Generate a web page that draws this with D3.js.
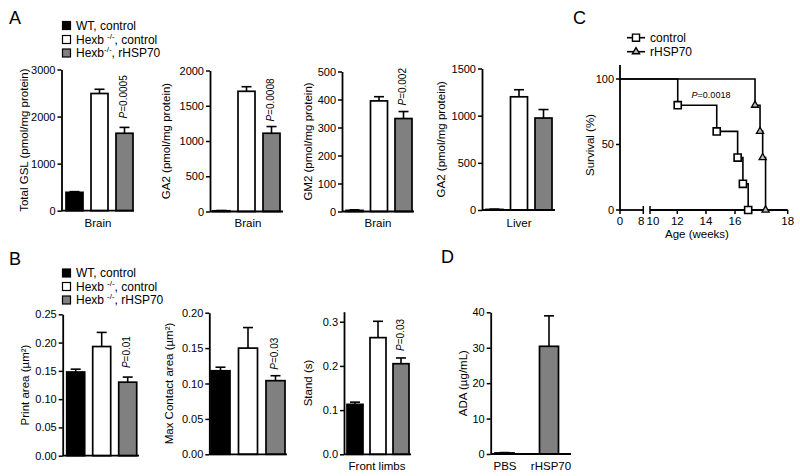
<!DOCTYPE html>
<html><head><meta charset="utf-8">
<script src="https://cdn.jsdelivr.net/npm/d3@7"></script>
<style>
body{margin:0;background:#fff;}
text{font-family:"Liberation Sans",Arial,sans-serif;fill:#000;}
</style></head>
<body>
<script>
// ---------- DATA ----------
const groups = ["WT, control", "Hexb -/-, control", "Hexb -/-, rHSP70"];
const gslBrain = [390, 2490, 1645];
const gslBrainErr = [15, 90, 125];
const ga2Brain = [10, 1705, 1110];
const ga2BrainErr = [4, 65, 95];
const gm2Brain = [4, 395, 332];
const gm2BrainErr = [2, 15, 25];
const ga2Liver = [6, 1200, 975];
const ga2LiverErr = [3, 75, 90];
const printArea = [0.148, 0.193, 0.130];
const printAreaErr = [0.005, 0.025, 0.009];
const maxContact = [0.118, 0.150, 0.104];
const maxContactErr = [0.005, 0.029, 0.007];
const stand = [0.113, 0.264, 0.205];
const standErr = [0.005, 0.037, 0.013];
const adaGroups = ["PBS", "rHSP70"];
const ada = [0.3, 30.4];
const adaErr = [0.1, 8.6];
const controlWeeks = [12.03, 14.74, 16.1, 16.3, 16.5];
const controlSurv = [80, 60, 40, 20, 0];
const rhspWeeks = [16.76, 16.95, 17.05, 17.16];
const rhspSurv = [80, 60, 40, 0];
const survTicks = [0, 8, 10, 12, 14, 16, 18];
const survYTicks = [0, 50, 100];

const groupColors = ["#000000", "#ffffff", "#808080"];
const FONT = '"Liberation Sans",Arial,sans-serif';

const svg = d3.select("body").append("svg").attr("width", 800).attr("height", 476);

function addLetter(t, x, y){
  svg.append("text").attr("x", x).attr("y", y).attr("font-size", 18).text(t);
}

function barPanel(c){
  const g = svg.append("g");
  const y = d3.scaleLinear().domain(c.domain).range([c.y0, c.yTop]);
  const n = c.cats.length;
  const x = d3.scaleBand().domain(c.cats)
    .range([c.start, c.start + n*c.step - (c.step - c.bw)])
    .paddingInner(1 - c.bw/c.step).paddingOuter(0);
  // y axis
  const ax = d3.axisLeft(y).tickValues(c.ticks).tickFormat(d3.format(c.fmt))
    .tickSize(4).tickSizeOuter(0).tickPadding(2);
  const ag = g.append("g").attr("transform", `translate(${c.axisX},0)`).call(ax);
  ag.selectAll("path").attr("stroke", "#000").attr("stroke-width", 1.8);
  ag.selectAll("line").attr("stroke", "#000").attr("stroke-width", 1.5);
  ag.selectAll("text").attr("font-size", 11).attr("font-family", FONT).attr("fill", "#000");
  // error bars
  c.vals.forEach((v, i) => {
    const cx = x(c.cats[i]) + x.bandwidth()/2;
    const top = y(v + c.errs[i]);
    g.append("line").attr("x1", cx).attr("x2", cx).attr("y1", y(v)).attr("y2", top)
      .attr("stroke", "#000").attr("stroke-width", 1.6);
    g.append("line").attr("x1", cx - 5).attr("x2", cx + 5).attr("y1", top).attr("y2", top)
      .attr("stroke", "#000").attr("stroke-width", 1.6);
  });
  // bars
  g.selectAll("rect.bar").data(c.vals).join("rect")
    .attr("x", (d, i) => x(c.cats[i]))
    .attr("y", d => y(d))
    .attr("width", x.bandwidth())
    .attr("height", d => Math.max(0.5, c.y0 - y(d)))
    .attr("fill", (d, i) => c.colors[i])
    .attr("stroke", "#000").attr("stroke-width", 1.7);
  // x axis line
  g.append("line").attr("x1", c.axisX).attr("x2", c.axisEnd).attr("y1", c.y0).attr("y2", c.y0)
    .attr("stroke", "#000").attr("stroke-width", 1.8);
  // y label
  g.append("text").attr("transform", `translate(${c.ylabX},${(c.y0 + c.yTop)/2 + (c.ylabDy||0)}) rotate(-90)`)
    .attr("text-anchor", "middle").attr("dy", "0.35em").attr("font-size", 11.5).text(c.ylab);
  // x labels
  if (c.xlabels) {
    c.xlabels.forEach(l => {
      g.append("text").attr("x", l.x).attr("y", c.xlabY).attr("text-anchor", "middle")
        .attr("font-size", 11.5).text(l.t);
    });
  }
  // P value
  if (c.p) {
    const i = n - 1;
    const cx = x(c.cats[i]) + x.bandwidth()/2 - 1;
    const yb = y(c.vals[i] + c.errs[i]) - c.pGap;
    const t = g.append("text").attr("transform", `translate(${cx + 3.6},${yb}) rotate(-90)`)
      .attr("font-size", 10);
    t.append("tspan").attr("font-style", "italic").text("P");
    t.append("tspan").text(c.p);
  }
  return {x, y};
}

function legend(x0, yc, rows){
  rows.forEach((r, i) => {
    const yy = yc[i];
    svg.append("rect").attr("x", x0).attr("y", yy - 4).attr("width", 8).attr("height", 8)
      .attr("fill", groupColors[i]).attr("stroke", "#000").attr("stroke-width", 1.2);
    const t = svg.append("text").attr("x", x0 + 13.5).attr("y", yy + 4.2).attr("font-size", 12);
    if (r.sup) {
      t.append("tspan").text(r.pre);
      t.append("tspan").attr("font-size", 8).attr("dy", -5).attr("dx", r.gap).text(r.sup);
      t.append("tspan").attr("dy", 5).text(r.post);
    } else t.text(r.pre);
  });
}

// ---------- PANEL A ----------
addLetter("A", 9, 23.5);
legend(62.5, [25.5, 39.5, 53], [
  {pre: "WT, control"},
  {pre: "Hexb", sup: "-/-", post: ", control", gap: 3},
  {pre: "Hexb", sup: "-/-", post: ", rHSP70", gap: 0}
]);

barPanel({cats: groups, vals: gslBrain, errs: gslBrainErr, colors: groupColors,
  domain: [0, 3000], ticks: [0, 1000, 2000, 3000], fmt: "d",
  y0: 210.7, yTop: 69.5, axisX: 61.5, axisEnd: 134, start: 66, step: 25, bw: 17,
  ylab: "Total GSL (pmol/mg protein)", ylabX: 24,
  xlabels: [{t: "Brain", x: 98}], xlabY: 226.5, p: "=0.0005", pGap: 9});

barPanel({cats: groups, vals: ga2Brain, errs: ga2BrainErr, colors: groupColors,
  domain: [0, 2000], ticks: [0, 500, 1000, 1500, 2000], fmt: "d",
  y0: 211.5, yTop: 70.5, axisX: 210, axisEnd: 283, start: 213, step: 25, bw: 17,
  ylab: "GA2 (pmol/mg protein)", ylabX: 166,
  xlabels: [{t: "Brain", x: 248}], xlabY: 226.5, p: "=0.0008", pGap: 5});

barPanel({cats: groups, vals: gm2Brain, errs: gm2BrainErr, colors: groupColors,
  domain: [0, 500], ticks: [0, 100, 200, 300, 400, 500], fmt: "d",
  y0: 211.5, yTop: 71.5, axisX: 342, axisEnd: 414, start: 346, step: 24.5, bw: 17,
  ylab: "GM2 (pmol/mg protein)", ylabX: 308,
  xlabels: [{t: "Brain", x: 378}], xlabY: 226.5, p: "=0.002", pGap: 6});

barPanel({cats: groups, vals: ga2Liver, errs: ga2LiverErr, colors: groupColors,
  domain: [0, 1500], ticks: [0, 500, 1000, 1500], fmt: "d",
  y0: 210, yTop: 68.5, axisX: 482, axisEnd: 555, start: 486, step: 24.5, bw: 17,
  ylab: "GA2 (pmol/mg protein)", ylabX: 441,
  xlabels: [{t: "Liver", x: 519}], xlabY: 226.5});

// ---------- PANEL B ----------
addLetter("B", 9, 265);
legend(62.5, [273, 286.5, 300], [
  {pre: "WT, control"},
  {pre: "Hexb", sup: "-/-", post: ", control", gap: 3},
  {pre: "Hexb", sup: "-/-", post: ", rHSP70", gap: 3}
]);

barPanel({cats: groups, vals: printArea, errs: printAreaErr, colors: groupColors,
  domain: [0, 0.25], ticks: [0, 0.05, 0.10, 0.15, 0.20, 0.25], fmt: ".2f",
  y0: 455.7, yTop: 314.3, axisX: 62.7, axisEnd: 139, start: 66.7, step: 26, bw: 18,
  ylab: "Print area (µm²)", ylabX: 25, p: "=0.01", pGap: 9});

barPanel({cats: groups, vals: maxContact, errs: maxContactErr, colors: groupColors,
  domain: [0, 0.20], ticks: [0, 0.05, 0.10, 0.15, 0.20], fmt: ".2f",
  y0: 454.3, yTop: 312.7, axisX: 209.3, axisEnd: 287, start: 211, step: 27.5, bw: 19,
  ylab: "Max Contact area (µm²)", ylabX: 169, p: "=0.03", pGap: 6});

barPanel({cats: groups, vals: stand, errs: standErr, colors: groupColors,
  domain: [0, 0.3227], ticks: [0, 0.1, 0.2, 0.3], fmt: ".1f",
  y0: 454.3, yTop: 311.7, axisX: 344, axisEnd: 411, start: 347, step: 23, bw: 16,
  ylab: "Stand (s)", ylabX: 308,
  xlabels: [{t: "Front limbs", x: 377}], xlabY: 469.5, p: "=0.03", pGap: 7});

// ---------- PANEL D ----------
addLetter("D", 441, 263);
barPanel({cats: adaGroups, vals: ada, errs: adaErr, colors: ["#808080", "#808080"],
  domain: [0, 40], ticks: [0, 10, 20, 30, 40], fmt: "d",
  y0: 454, yTop: 312.3, axisX: 490.7, axisEnd: 571, start: 495, step: 44.5, bw: 19,
  ylab: "ADA (µg/mL)", ylabX: 463,
  xlabels: [{t: "PBS", x: 505}, {t: "rHSP70", x: 551}], xlabY: 469.5});

// ---------- PANEL C ----------
addLetter("C", 573, 24);
(function(){
  const g = svg.append("g");
  const x = d3.scaleLinear().domain([0, 8, 10, 12, 14, 16, 18])
    .range([620, 643.3, 650, 677.3, 706, 735, 787.7]);
  const y = d3.scaleLinear().domain([0, 100]).range([210, 79]);
  const yAxisTop = 65;
  // y axis
  g.append("line").attr("x1", 620).attr("x2", 620).attr("y1", yAxisTop).attr("y2", y(0))
    .attr("stroke", "#000").attr("stroke-width", 1.8);
  survYTicks.forEach(t => {
    g.append("line").attr("x1", 616).attr("x2", 620).attr("y1", y(t)).attr("y2", y(t))
      .attr("stroke", "#000").attr("stroke-width", 1.5);
    g.append("text").attr("x", 614).attr("y", y(t)).attr("dy", "0.35em").attr("text-anchor", "end")
      .attr("font-size", 11).text(t);
  });
  // x axis (broken)
  g.append("line").attr("x1", 620).attr("x2", x(8)).attr("y1", y(0)).attr("y2", y(0))
    .attr("stroke", "#000").attr("stroke-width", 1.8);
  g.append("line").attr("x1", x(10)).attr("x2", x(18)).attr("y1", y(0)).attr("y2", y(0))
    .attr("stroke", "#000").attr("stroke-width", 1.8);
  survTicks.forEach(t => {
    const brk = (t === 8 || t === 10);
    g.append("line").attr("x1", x(t)).attr("x2", x(t))
      .attr("y1", brk ? y(0) - 4 : y(0)).attr("y2", y(0) + 4)
      .attr("stroke", "#000").attr("stroke-width", 1.5);
    g.append("text").attr("x", x(t) + (t === 8 ? -2 : t === 10 ? 3 : 0)).attr("y", 225)
      .attr("text-anchor", "middle").attr("font-size", 11.5).text(t);
  });
  g.append("text").attr("x", 697).attr("y", 238).attr("text-anchor", "middle")
    .attr("font-size", 11.5).text("Age (weeks)");
  g.append("text").attr("transform", `translate(590,145) rotate(-90)`).attr("text-anchor", "middle")
    .attr("dy", "0.35em").attr("font-size", 11.5).text("Survival (%)");
  // curves
  const line = d3.line().x(d => x(d[0])).y(d => y(d[1])).curve(d3.curveStepAfter);
  const ctrl = [[0, 100]].concat(controlWeeks.map((w, i) => [w, controlSurv[i]]));
  const rh = [[0, 100]].concat(rhspWeeks.map((w, i) => [w, rhspSurv[i]]));
  g.append("path").attr("d", line(rh)).attr("fill", "none").attr("stroke", "#000").attr("stroke-width", 1.6);
  g.append("path").attr("d", line(ctrl)).attr("fill", "none").attr("stroke", "#000").attr("stroke-width", 1.6);
  const sq = d3.symbol().type(d3.symbolSquare).size(50);
  const tri = d3.symbol().type(d3.symbolTriangle).size(22);
  controlWeeks.forEach((w, i) => {
    g.append("path").attr("d", sq()).attr("transform", `translate(${x(w)},${y(controlSurv[i])})`)
      .attr("fill", "#fff").attr("stroke", "#000").attr("stroke-width", 1.6);
  });
  rhspWeeks.forEach((w, i) => {
    g.append("path").attr("d", tri()).attr("transform", `translate(${x(w)},${y(rhspSurv[i])})`)
      .attr("fill", "#bbb").attr("stroke", "#000").attr("stroke-width", 1.3);
  });
  // P value
  const pt = g.append("text").attr("x", 711).attr("y", 98).attr("text-anchor", "middle").attr("font-size", 9);
  pt.append("tspan").attr("font-style", "italic").text("P");
  pt.append("tspan").text("=0.0018");
  // legend
  [["control", sq, "#fff"], ["rHSP70", tri, "#bbb"]].forEach((r, i) => {
    const yy = 37.7 + i * 14;
    g.append("line").attr("x1", 627).attr("x2", 645).attr("y1", yy).attr("y2", yy)
      .attr("stroke", "#000").attr("stroke-width", 1.6);
    g.append("path").attr("d", r[1]()).attr("transform", `translate(636,${yy})`)
      .attr("fill", r[2]).attr("stroke", "#000").attr("stroke-width", 1.4);
    g.append("text").attr("x", 650).attr("y", yy + 4.2).attr("font-size", 12).text(r[0]);
  });
})();
</script>
</body></html>
